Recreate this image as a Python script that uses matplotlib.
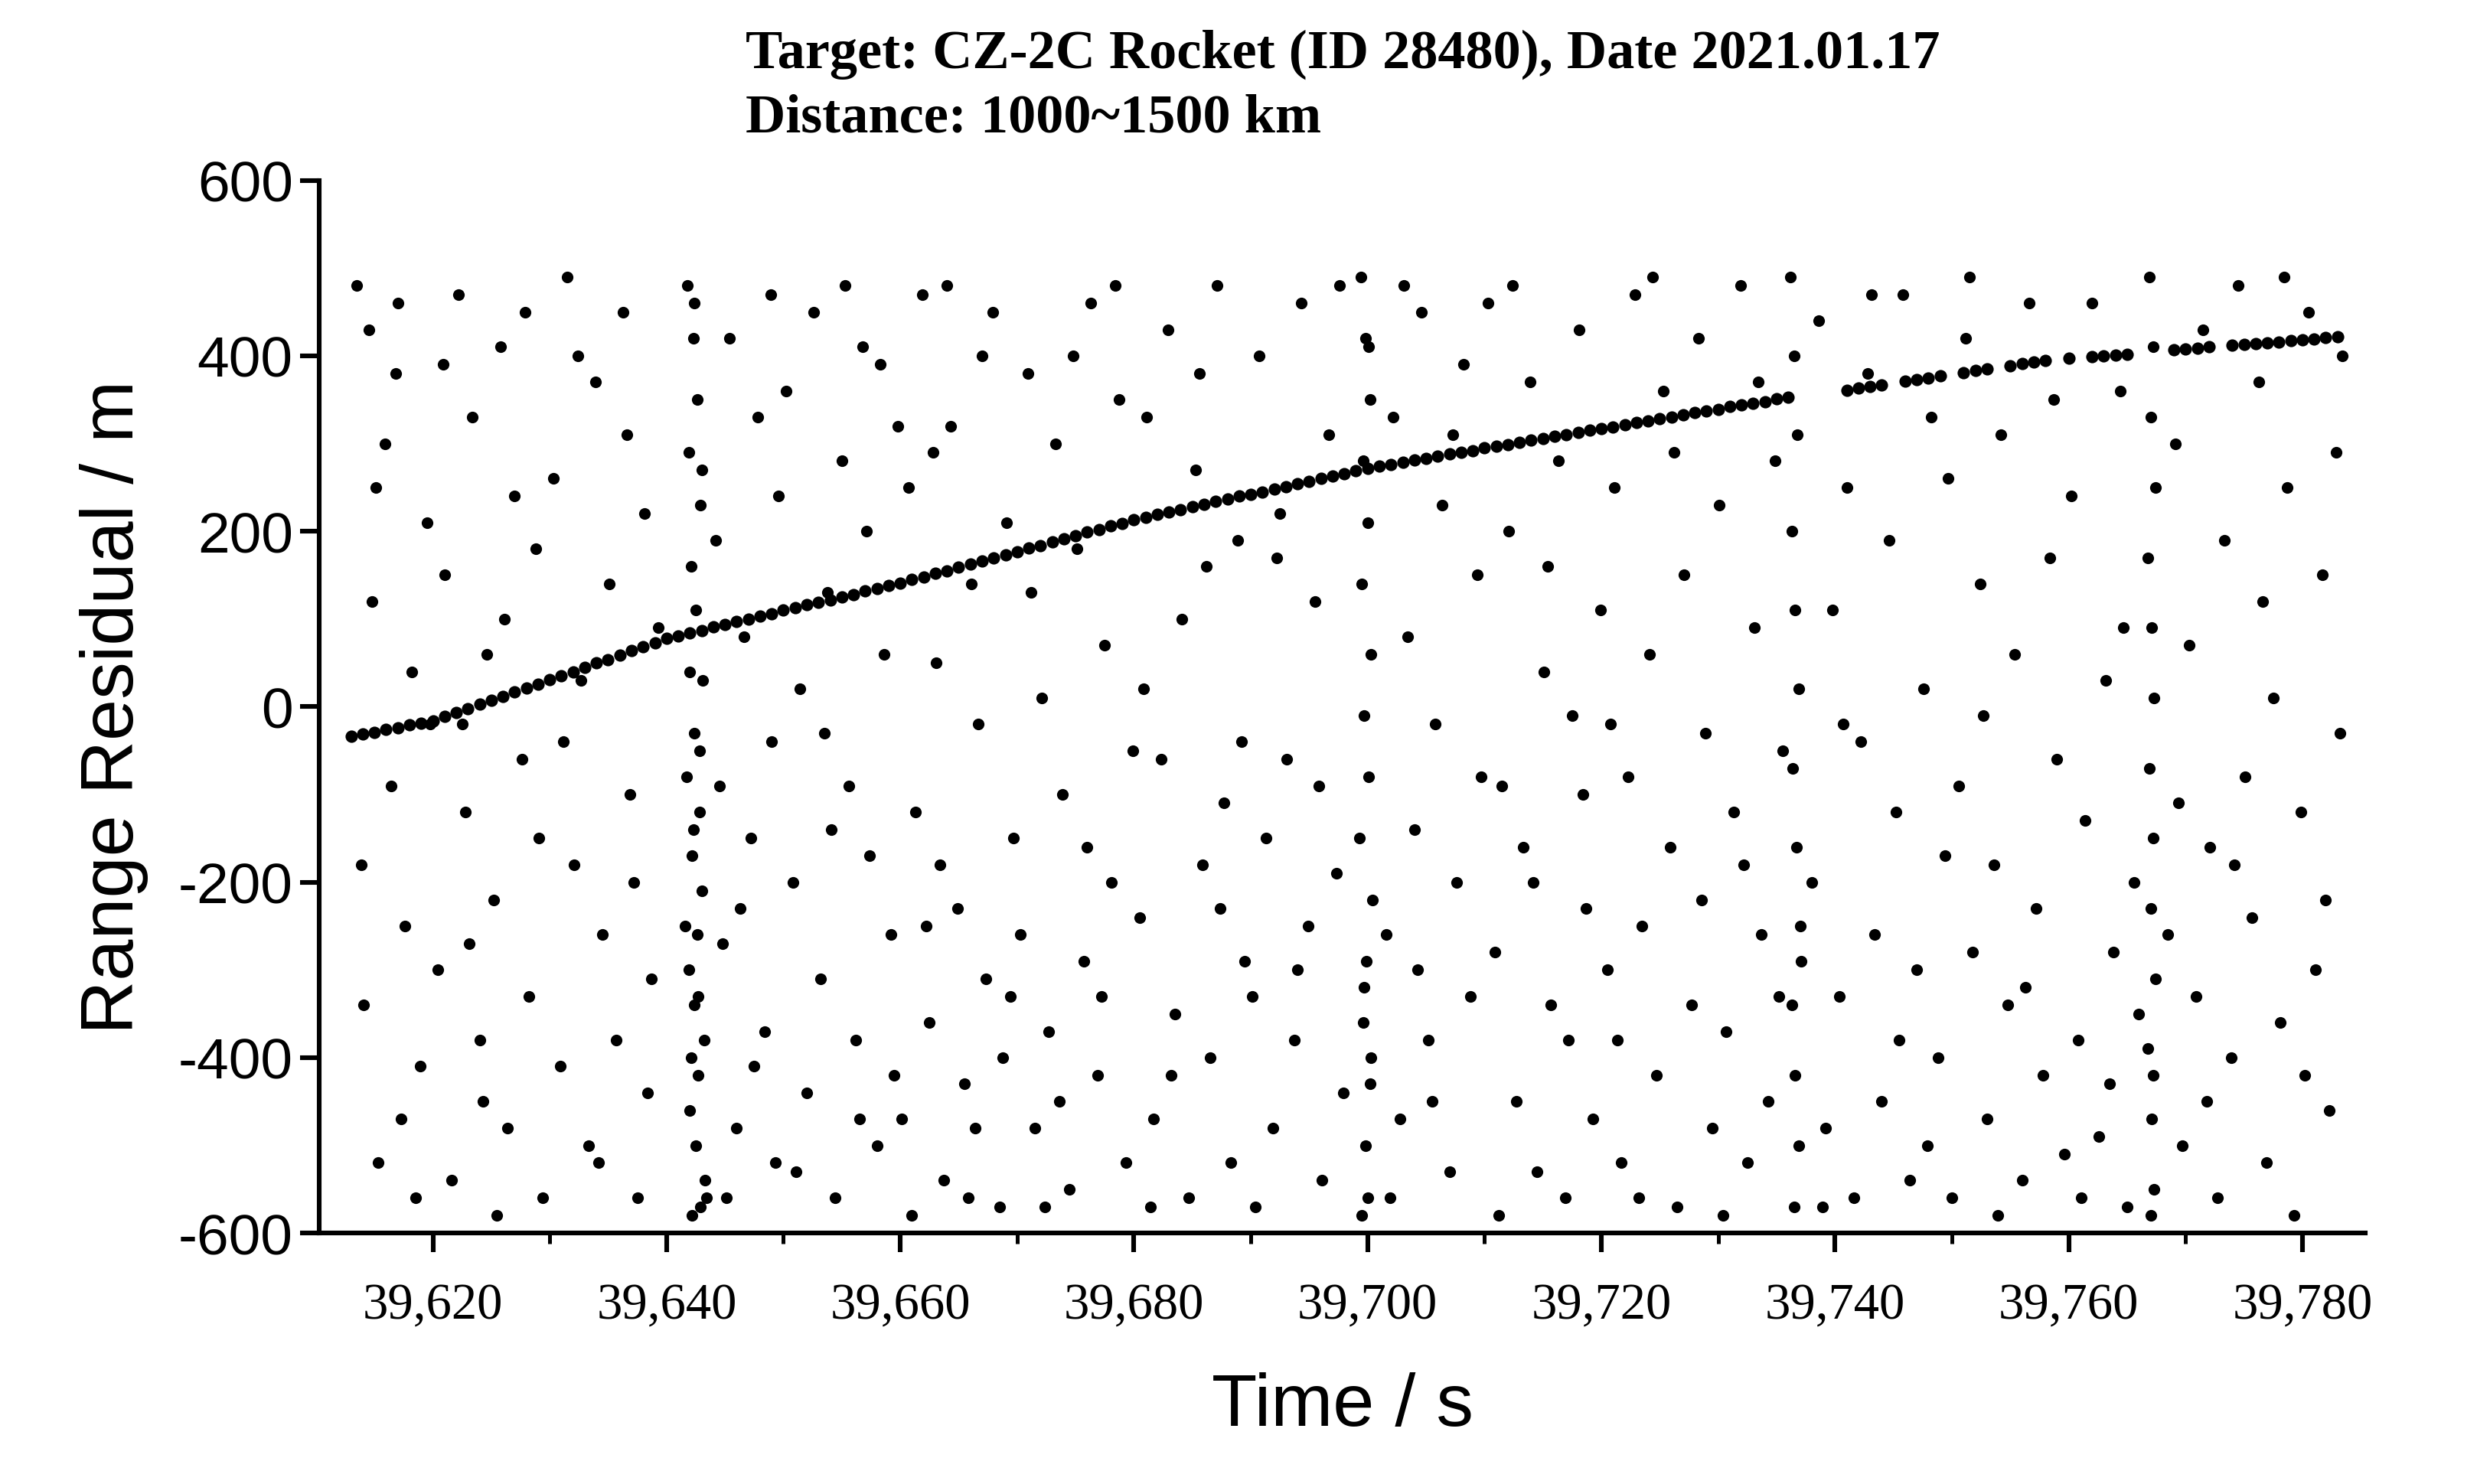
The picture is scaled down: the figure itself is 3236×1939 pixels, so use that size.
import matplotlib.pyplot as plt
from matplotlib.ticker import MultipleLocator, FuncFormatter

plt.rcParams['axes.unicode_minus'] = False

## time offsets (s after 39600) and residuals (m) of the target track
track_t = list(range(13, 41)) + list(range(41, 61)) + list(range(61, 81)) + list(range(81, 101)) \
    + list(range(101, 121)) + list(range(121, 137)) \
    + [141, 142, 143, 144, 146, 147, 148, 149, 151, 152, 153, 155, 156, 157, 158, 160, 162, 163,
       164, 165, 169, 170, 171, 172, 174, 175, 176, 177, 178, 179, 180, 181, 182, 183]
track_r = [-34, -31, -29, -26, -24, -21, -19, -16,
           -11, -7, -2, 3, 7, 12, 17, 21, 26, 31, 35, 40, 45, 50, 54, 59, 64, 68, 73, 78,
           81, 84, 87, 91, 94, 97, 100, 103, 106, 110, 113, 116, 119, 122, 125, 128, 132, 135, 138, 141,
           145, 148, 152, 155, 159, 163, 166, 170, 173, 177, 181, 184, 188, 191, 195, 199, 202, 206, 209, 213,
           216, 219, 222, 225, 228, 231, 234, 237, 240, 242, 245, 248, 251, 254, 257, 260, 263, 266, 269, 272,
           274, 276, 279, 281, 283, 286, 288, 290, 292, 295, 297, 299, 301, 304, 306, 308, 310, 313, 315, 317,
           319, 321, 324, 326, 328, 330, 333, 335, 337, 339, 342, 344, 346, 348, 351, 353,
           361, 363, 365, 367, 371, 373, 375, 377, 381, 383, 385, 389, 391, 393, 395, 397, 399, 400,
           401, 402, 407, 408, 409, 410, 412, 413, 414, 415, 416, 417, 418, 419, 421, 422]

## noise returns: "t:r" pairs, t in s after 39600
noise_str = """13.5:480 14.1:-340 14.8:120 15.3:-520 15.9:300 16.4:-90 17.0:460 17.6:-250 18.2:40 18.9:-410 19.5:210 13.9:-180 16.8:380 18.5:-560 19.8:-20 15.1:250 17.3:-470 14.5:430
20.4:-300 21.0:150 21.6:-540 22.2:470 22.8:-120 23.4:330 24.0:-380 24.6:60 25.2:-220 25.8:410 26.4:-480 27.0:240 27.6:-60 28.2:-330 28.8:180 29.4:-560 20.9:390 22.5:-20 24.3:-450 26.1:100 27.9:450 29.1:-150 23.1:-270 25.5:-580
30.3:260 30.9:-410 31.5:490 32.1:-180 32.7:30 33.3:-500 33.9:370 34.5:-260 35.1:140 35.7:-380 36.3:450 36.9:-100 37.5:-560 38.1:220 38.7:-310 39.3:90 31.2:-40 34.2:-520 36.6:310 38.4:-440 32.4:400 37.2:-200
41.8:480 42.3:420 42.6:350 41.9:290 42.9:230 42.1:160 42.5:110 43.1:30 42.4:-30 41.7:-80 42.8:-120 42.2:-170 43.0:-210 42.6:-260 41.9:-300 42.4:-340 43.2:-380 42.7:-420 42.0:-460 42.5:-500 43.3:-540 42.9:-570 42.2:-580 43.4:-560 41.6:-250 42.3:-140 42.8:-50 42.0:40 43.0:270 42.4:460 42.7:-330 42.1:-400
44.2:190 44.8:-270 45.4:420 46.0:-480 46.6:80 47.2:-150 47.8:330 48.4:-370 49.0:-40 49.6:240 45.1:-560 47.5:-410 48.9:470 44.5:-90 46.3:-230 49.3:-520
50.2:360 50.8:-200 51.4:20 52.0:-440 52.6:450 53.2:-310 53.8:130 54.4:-560 55.0:280 55.6:-90 56.2:-380 56.8:410 57.4:-170 58.0:-500 58.6:60 59.2:-260 59.8:320 51.1:-530 53.5:-30 55.3:480 57.1:200 59.5:-420 54.1:-140 56.5:-470 58.3:390
60.1:-470 60.7:250 61.3:-120 61.9:470 62.5:-360 63.1:50 63.7:-540 64.3:320 64.9:-230 65.5:-430 66.1:140 66.7:-20 67.3:-310 67.9:450 68.5:-570 69.1:210 69.7:-150 62.2:-250 64.0:480 65.8:-560 67.0:400 68.8:-400 61.0:-580 63.4:-180 66.4:-480 69.4:-330 62.8:290
70.3:-260 70.9:380 71.5:-480 72.1:10 72.7:-370 73.3:300 73.9:-100 74.5:-550 75.1:180 75.7:-290 76.3:460 76.9:-420 77.5:70 78.1:-200 78.7:350 79.3:-520 79.9:-50 71.2:130 73.6:-450 76.0:-160 78.4:480 72.4:-570 74.8:400 77.2:-330
80.5:-240 81.1:330 81.7:-470 82.3:-60 82.9:430 83.5:-350 84.1:100 84.7:-560 85.3:270 85.9:-180 86.5:-400 87.1:480 87.7:-110 88.3:-520 88.9:190 89.5:-290 80.8:20 83.2:-420 85.6:380 87.4:-230 89.2:-40 81.4:-570 86.2:160
90.1:-330 90.7:400 91.3:-150 91.9:-480 92.5:220 93.1:-60 93.7:-380 94.3:460 94.9:-250 95.5:120 96.1:-540 96.7:310 97.3:-190 97.9:-440 90.4:-570 92.2:170 94.0:-300 95.8:-90 97.6:480
99.4:490 99.8:420 100.2:350 99.6:280 100.0:210 99.5:140 100.3:60 99.7:-10 100.1:-80 99.3:-150 100.4:-220 99.9:-290 99.6:-360 100.2:-430 99.8:-500 100.0:-560 99.5:-580 100.3:-400 99.7:-320 100.1:410
101.6:-260 102.2:330 102.8:-470 103.4:80 104.0:-140 104.6:450 105.2:-380 105.8:-20 106.4:230 107.0:-530 107.6:-200 108.2:390 108.8:-330 109.4:150 101.9:-560 103.1:480 105.5:-450 107.3:310 109.7:-80 104.3:-300
110.3:460 110.9:-280 111.5:-90 112.1:200 112.7:-450 113.3:-160 113.9:370 114.5:-530 115.1:40 115.7:-340 116.3:280 116.9:-560 117.5:-10 118.1:430 118.7:-230 119.3:-470 119.9:110 111.2:-580 114.2:-200 117.2:-380 112.4:480 115.4:160 118.4:-100
120.5:-300 121.1:250 121.7:-520 122.3:-80 122.9:470 123.5:-250 124.1:60 124.7:-420 125.3:360 125.9:-160 126.5:-570 127.1:150 127.7:-340 128.3:420 128.9:-30 129.5:-480 120.8:-20 123.2:-560 126.2:290 128.6:-220 121.4:-380 124.4:490
130.1:230 130.7:-370 131.3:-120 131.9:480 132.5:-520 133.1:90 133.7:-260 134.3:-450 134.9:280 135.5:-50 130.4:-580 132.2:-180 133.4:370 135.2:-330
136.2:490 136.5:400 136.8:310 136.3:200 136.6:110 136.9:20 136.4:-70 136.7:-160 137.0:-250 136.3:-340 136.6:-420 136.9:-500 136.5:-570 137.1:-290
138.0:-200 138.6:440 139.2:-480 139.8:110 140.4:-330 141.0:250 141.6:-560 142.2:-40 142.8:380 143.4:-260 144.0:-450 144.6:190 145.2:-120 145.8:470 146.4:-540 147.0:-300 147.6:20 148.2:330 148.8:-400 149.4:-170 138.9:-570 140.7:-20 143.1:470 145.5:-380 147.9:-500 149.7:260
150.0:-560 150.6:-90 151.2:420 151.8:-280 152.4:140 153.0:-470 153.6:-180 154.2:310 154.8:-340 155.4:60 156.0:-540 156.6:460 157.2:-230 157.8:-420 158.4:170 159.0:-60 159.6:-510 151.5:490 153.9:-580 156.3:-320 158.7:350 152.7:-10
160.2:240 160.8:-380 161.4:-130 162.0:460 162.6:-490 163.2:30 163.8:-280 164.4:360 165.0:-570 165.6:-200 161.1:-560 163.5:-430 164.7:90 166.0:-350
166.9:490 167.2:410 167.0:330 167.4:250 166.8:170 167.1:90 167.3:10 166.9:-70 167.2:-150 167.0:-230 167.4:-310 166.8:-390 167.1:-470 167.3:-550 167.0:-580 167.2:-420
168.5:-260 169.1:300 169.7:-500 170.3:70 170.9:-330 171.5:430 172.1:-160 172.7:-560 173.3:190 173.9:-400 174.5:480 175.1:-80 175.7:-240 176.3:370 176.9:-520 177.5:10 178.1:-360 178.7:250 179.3:-580 179.9:-120 180.5:450 181.1:-300 181.7:150 182.3:-460 182.9:290 183.2:-30 169.4:-110 171.8:-450 174.2:-180 176.6:120 178.4:490 180.2:-420 182.0:-220 183.4:400"""

T0 = 39600
pairs = [p.split(":") for p in noise_str.split()]
noise_t = [T0 + float(a) for a, b in pairs]
noise_r = [float(b) for a, b in pairs]

fig = plt.figure(figsize=(16.18, 9.7), dpi=200)
ax = fig.add_axes([0.129, 0.169, 0.826, 0.709])

ax.scatter(noise_t, noise_r, s=30, c="black", linewidths=0)
ax.scatter([T0 + t for t in track_t], track_r, s=34, c="black", linewidths=0)

ax.set_xlim(39610.3, 39785.4)
ax.set_ylim(-600, 600)
ax.xaxis.set_major_locator(MultipleLocator(20))
ax.xaxis.set_minor_locator(MultipleLocator(10))
ax.yaxis.set_major_locator(MultipleLocator(200))
ax.xaxis.set_major_formatter(FuncFormatter(lambda v, p: f"{v:,.0f}"))
for s in ["top", "right"]:
    ax.spines[s].set_visible(False)
for s in ["left", "bottom"]:
    ax.spines[s].set_linewidth(2.2)
ax.tick_params(which="major", direction="out", length=9, width=2.2)
ax.tick_params(which="minor", direction="out", length=5, width=1.8)
ax.tick_params(axis="x", pad=14)
for lab in ax.get_xticklabels():
    lab.set_family("Liberation Serif")
    lab.set_fontsize(24)
for lab in ax.get_yticklabels():
    lab.set_family("Liberation Sans")
    lab.set_fontsize(27)

ax.set_xlabel("Time / s", family="Liberation Sans", fontsize=35, labelpad=20)
ax.set_ylabel("Range Residual / m", family="Liberation Sans", fontsize=35, labelpad=14)

fig.text(0.301, 0.963, "Target: CZ-2C Rocket (ID 28480), Date 2021.01.17",
         family="Liberation Serif", weight="bold", fontsize=26, va="center")
fig.text(0.301, 0.920, "Distance: 1000~1500 km",
         family="Liberation Serif", weight="bold", fontsize=26, va="center")

fig.savefig("out.png", dpi=200)
